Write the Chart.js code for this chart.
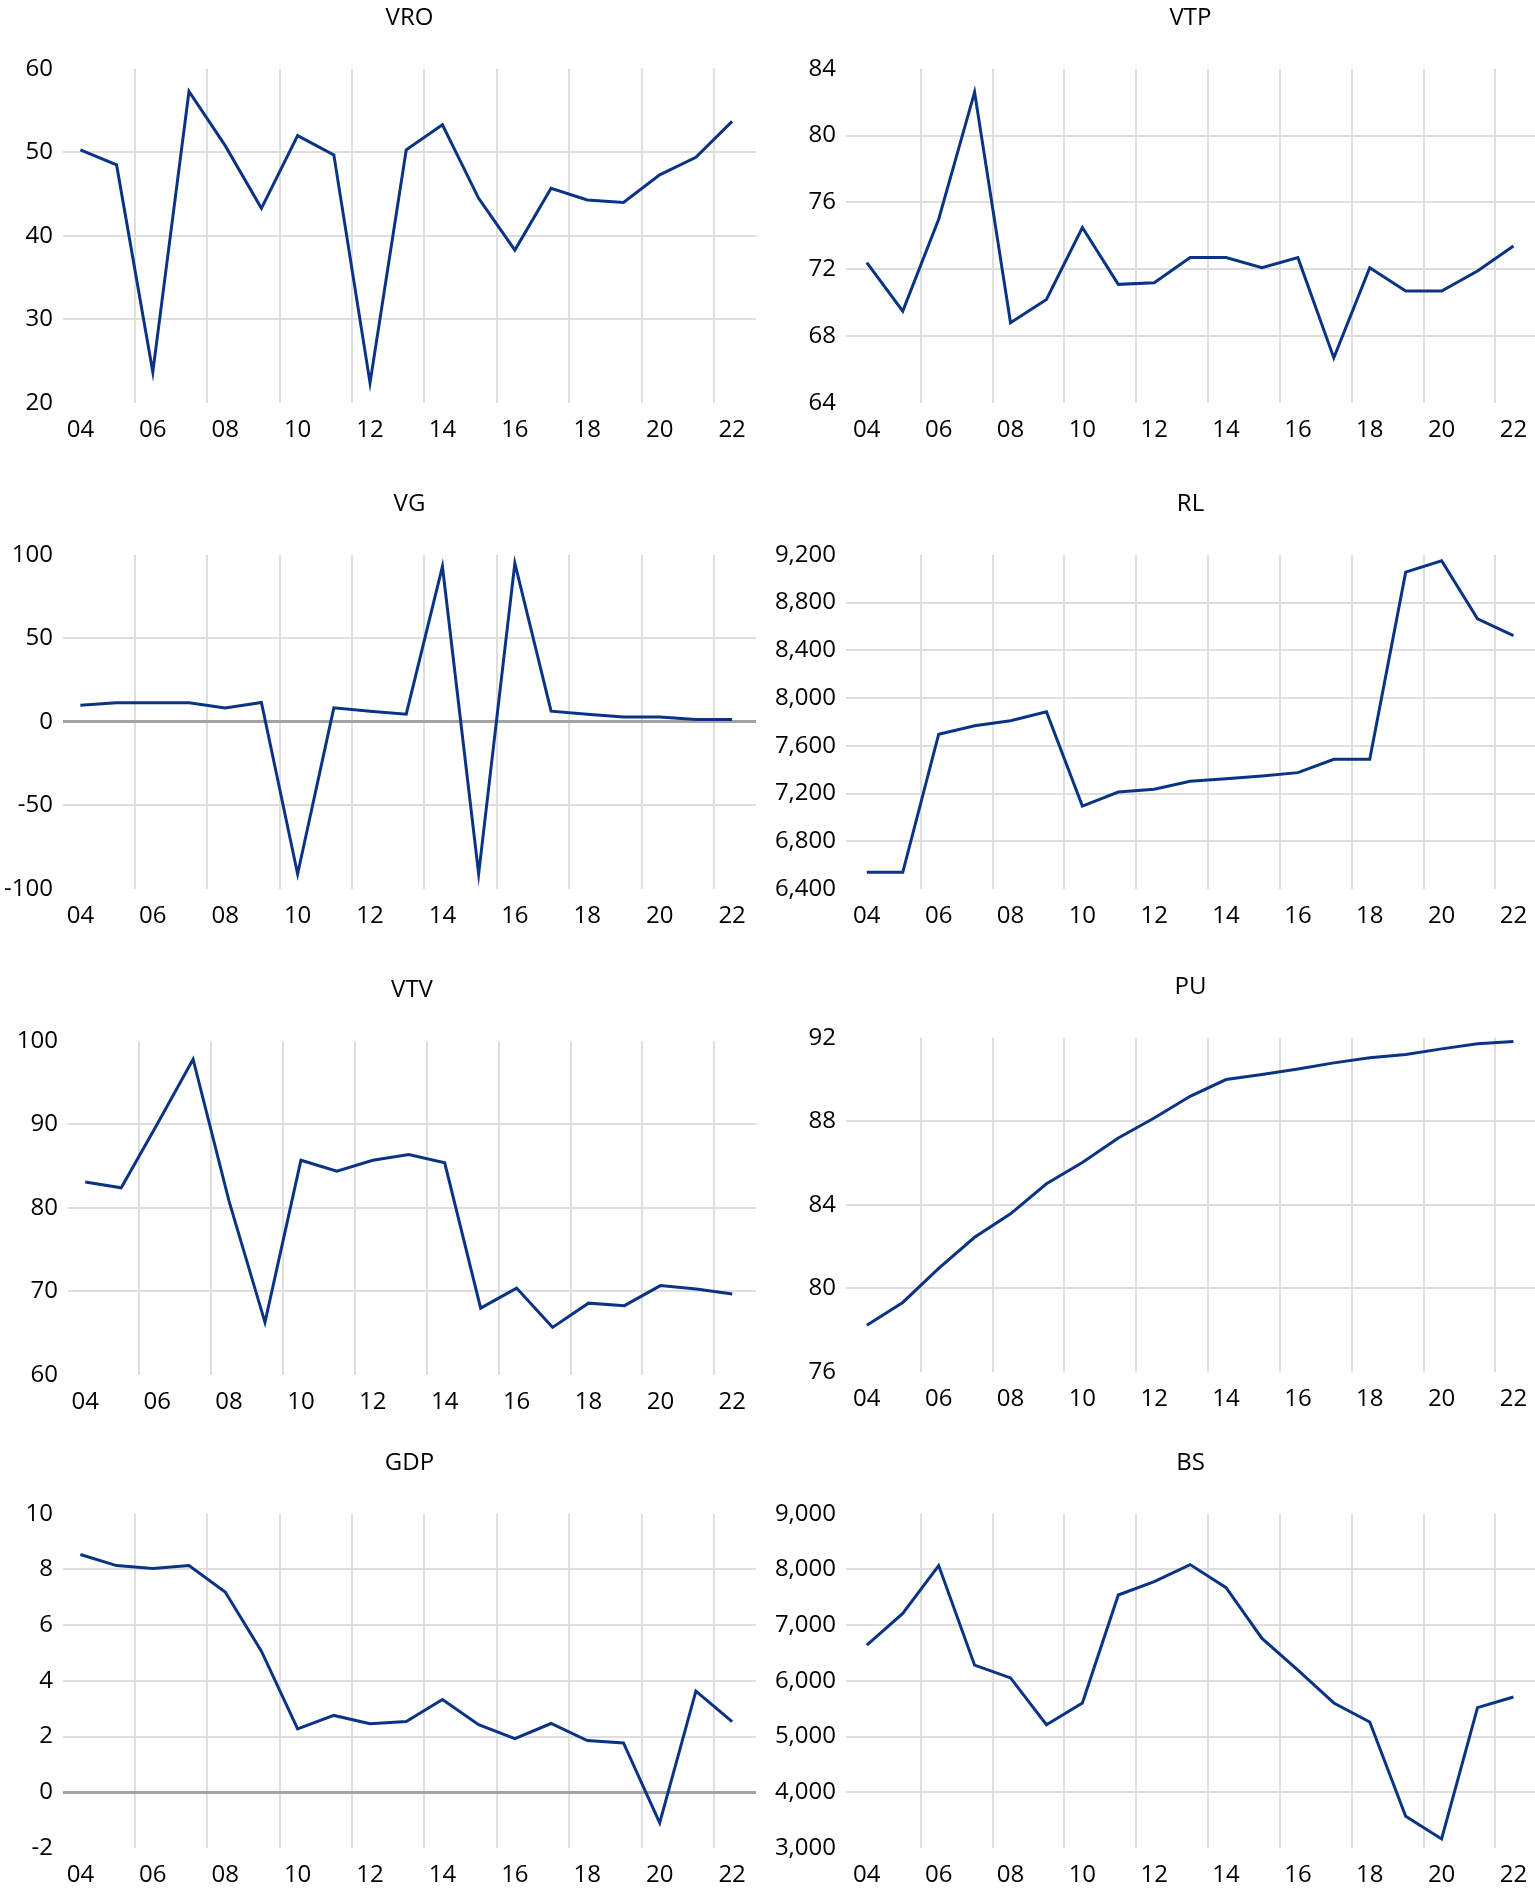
<!DOCTYPE html>
<html>
<head>
<meta charset="utf-8">
<script src="https://cdn.jsdelivr.net/npm/chart.js@4.4.0/dist/chart.umd.min.js"></script>
<style>
  html, body { margin: 0; padding: 0; background: #fff; }
  body { position: relative; width: 1535px; height: 1894px; overflow: hidden; }
  canvas { position: absolute; }
</style>
</head>
<body>
<canvas id="vro" width="756" height="446" style="left:0;top:3px"></canvas>
<canvas id="vtp" width="767" height="446" style="left:768px;top:3px"></canvas>
<canvas id="vg"  width="756" height="446" style="left:0;top:489px"></canvas>
<canvas id="rl"  width="767" height="446" style="left:768px;top:489px"></canvas>
<canvas id="vtv" width="756" height="446" style="left:0;top:975px"></canvas>
<canvas id="pu"  width="767" height="446" style="left:768px;top:972px"></canvas>
<canvas id="gdp" width="756" height="446" style="left:0;top:1448px"></canvas>
<canvas id="bs"  width="767" height="446" style="left:768px;top:1448px"></canvas>
<script>
// years on the x axis
const years = [2004, 2005, 2006, 2007, 2008, 2009, 2010, 2011, 2012, 2013,
               2014, 2015, 2016, 2017, 2018, 2019, 2020, 2021, 2022];
const labelYears = [2004, 2006, 2008, 2010, 2012, 2014, 2016, 2018, 2020, 2022];
const yearLabels = ['04', '06', '08', '10', '12', '14', '16', '18', '20', '22'];

// series
const vro = [50.3, 48.5, 23.7, 57.3, 50.8, 43.3, 52.0, 49.7, 22.4, 50.3,
             53.3, 44.5, 38.3, 45.7, 44.3, 44.0, 47.3, 49.4, 53.7];
const vtp = [72.4, 69.5, 75.0, 82.6, 68.8, 70.2, 74.5, 71.1, 71.2, 72.7,
             72.7, 72.1, 72.7, 66.7, 72.1, 70.7, 70.7, 71.9, 73.4];
const vg = [10, 11.4, 11.4, 11.4, 8.4, 11.6, -91, 8.4, 6.4, 4.6,
            93, -91, 95, 6.4, 4.6, 3.0, 3.0, 1.4, 1.4];
const rl = [6540, 6540, 7697, 7767, 7809, 7885, 7095, 7212, 7235, 7302,
            7324, 7347, 7375, 7487, 7487, 9055, 9150, 8663, 8523];
const vtv = [83.1, 82.4, 90.0, 97.8, 80.8, 66.3, 85.7, 84.4, 85.7, 86.4,
             85.4, 68.0, 70.4, 65.7, 68.6, 68.3, 70.7, 70.3, 69.7];
const pu = [78.24, 79.33, 80.96, 82.45, 83.57, 85.01, 86.03, 87.2, 88.16, 89.2,
            90.0, 90.24, 90.51, 90.8, 91.04, 91.2, 91.47, 91.71, 91.82];
const gdp = [8.54, 8.14, 8.04, 8.14, 7.19, 5.07, 2.28, 2.76, 2.46, 2.54,
             3.33, 2.43, 1.93, 2.47, 1.86, 1.77, -1.1, 3.63, 2.54];
const bs = [6642, 7212, 8070, 6282, 6054, 5214, 5604, 7542, 7782, 8088,
            7674, 6762, 6192, 5604, 5262, 3570, 3162, 5520, 5712];

// y tick labels
const vroTicks = [20, 30, 40, 50, 60];
const vtpTicks = [64, 68, 72, 76, 80, 84];
const vgTicks = [-100, -50, 0, 50, 100];
const rlTicks = [6400, 6800, 7200, 7600, 8000, 8400, 8800, 9200];
const vtvTicks = [60, 70, 80, 90, 100];
const puTicks = [76, 80, 84, 88, 92];
const gdpTicks = [-2, 0, 2, 4, 6, 8, 10];
const bsTicks = [3000, 4000, 5000, 6000, 7000, 8000, 9000];

const LINE = '#0b3385';
const GRID = '#dedede';
const ZERO = '#a3a3a3';
const NONE = 'rgba(0,0,0,0)';
const FONT = { family: "'Open Sans', sans-serif", size: 24, weight: 'normal' };

// vertical grid sits between odd and even years
const gridYears = labelYears.slice(1).map(y => y - 0.5);
const xTicks = labelYears.concat(gridYears).sort((a, b) => a - b);

const LEFT = { yw: 63, xMin: 2003.52, xMax: 2022.66 };
const RIGHT = { yw: 78, xMin: 2003.42, xMax: 2022.6 };

function makePanel(id, title, values, yTicks, o) {
  const last = yTicks[yTicks.length - 1];
  new Chart(document.getElementById(id), {
    type: 'line',
    data: {
      datasets: [{
        data: years.map((y, i) => ({ x: y, y: values[i] })),
        borderColor: LINE,
        borderWidth: 3,
        pointRadius: 0,
        tension: 0,
        fill: false
      }]
    },
    options: {
      responsive: false,
      animation: false,
      events: [],
      layout: { padding: 0 },
      plugins: {
        legend: { display: false },
        tooltip: { enabled: false },
        title: {
          display: true, text: title, fullSize: false, color: '#000',
          font: FONT, padding: { top: 1, bottom: 36 }
        }
      },
      scales: {
        x: {
          type: 'linear', min: o.xMin, max: o.xMax,
          border: { display: false },
          afterBuildTicks: s => { s.ticks = xTicks.map(v => ({ value: v })); },
          afterFit: s => { s.height = 46; s.paddingLeft = 0; s.paddingRight = 0; },
          ticks: {
            autoSkip: false, maxRotation: 0, padding: 13, color: '#000', font: FONT,
            callback: v => {
              const k = labelYears.indexOf(v);
              return k < 0 ? '' : yearLabels[k];
            }
          },
          grid: {
            drawTicks: false, lineWidth: 2,
            color: c => (c.tick && gridYears.includes(c.tick.value)) ? GRID : NONE
          }
        },
        y: {
          min: yTicks[0], max: last,
          border: { display: false },
          afterBuildTicks: s => { s.ticks = yTicks.map(v => ({ value: v })); },
          afterFit: s => { s.width = o.yw; },
          ticks: {
            padding: 10, color: '#000', font: FONT,
            callback: v => v.toLocaleString('en-US')
          },
          grid: {
            drawTicks: false,
            lineWidth: c => (c.tick && c.tick.value === 0) ? 3 : 2,
            color: c => {
              const v = c.tick ? c.tick.value : null;
              if (v === yTicks[0] || v === last) return NONE;
              return v === 0 ? ZERO : GRID;
            }
          }
        }
      }
    }
  });
}

makePanel('vro', 'VRO', vro, vroTicks, LEFT);
makePanel('vtp', 'VTP', vtp, vtpTicks, RIGHT);
makePanel('vg', 'VG', vg, vgTicks, LEFT);
makePanel('rl', 'RL', rl, rlTicks, RIGHT);
makePanel('vtv', 'VTV', vtv, vtvTicks, { yw: 68, xMin: 2003.52, xMax: 2022.66 });
makePanel('pu', 'PU', pu, puTicks, RIGHT);
makePanel('gdp', 'GDP', gdp, gdpTicks, LEFT);
makePanel('bs', 'BS', bs, bsTicks, RIGHT);
</script>
</body>
</html>
